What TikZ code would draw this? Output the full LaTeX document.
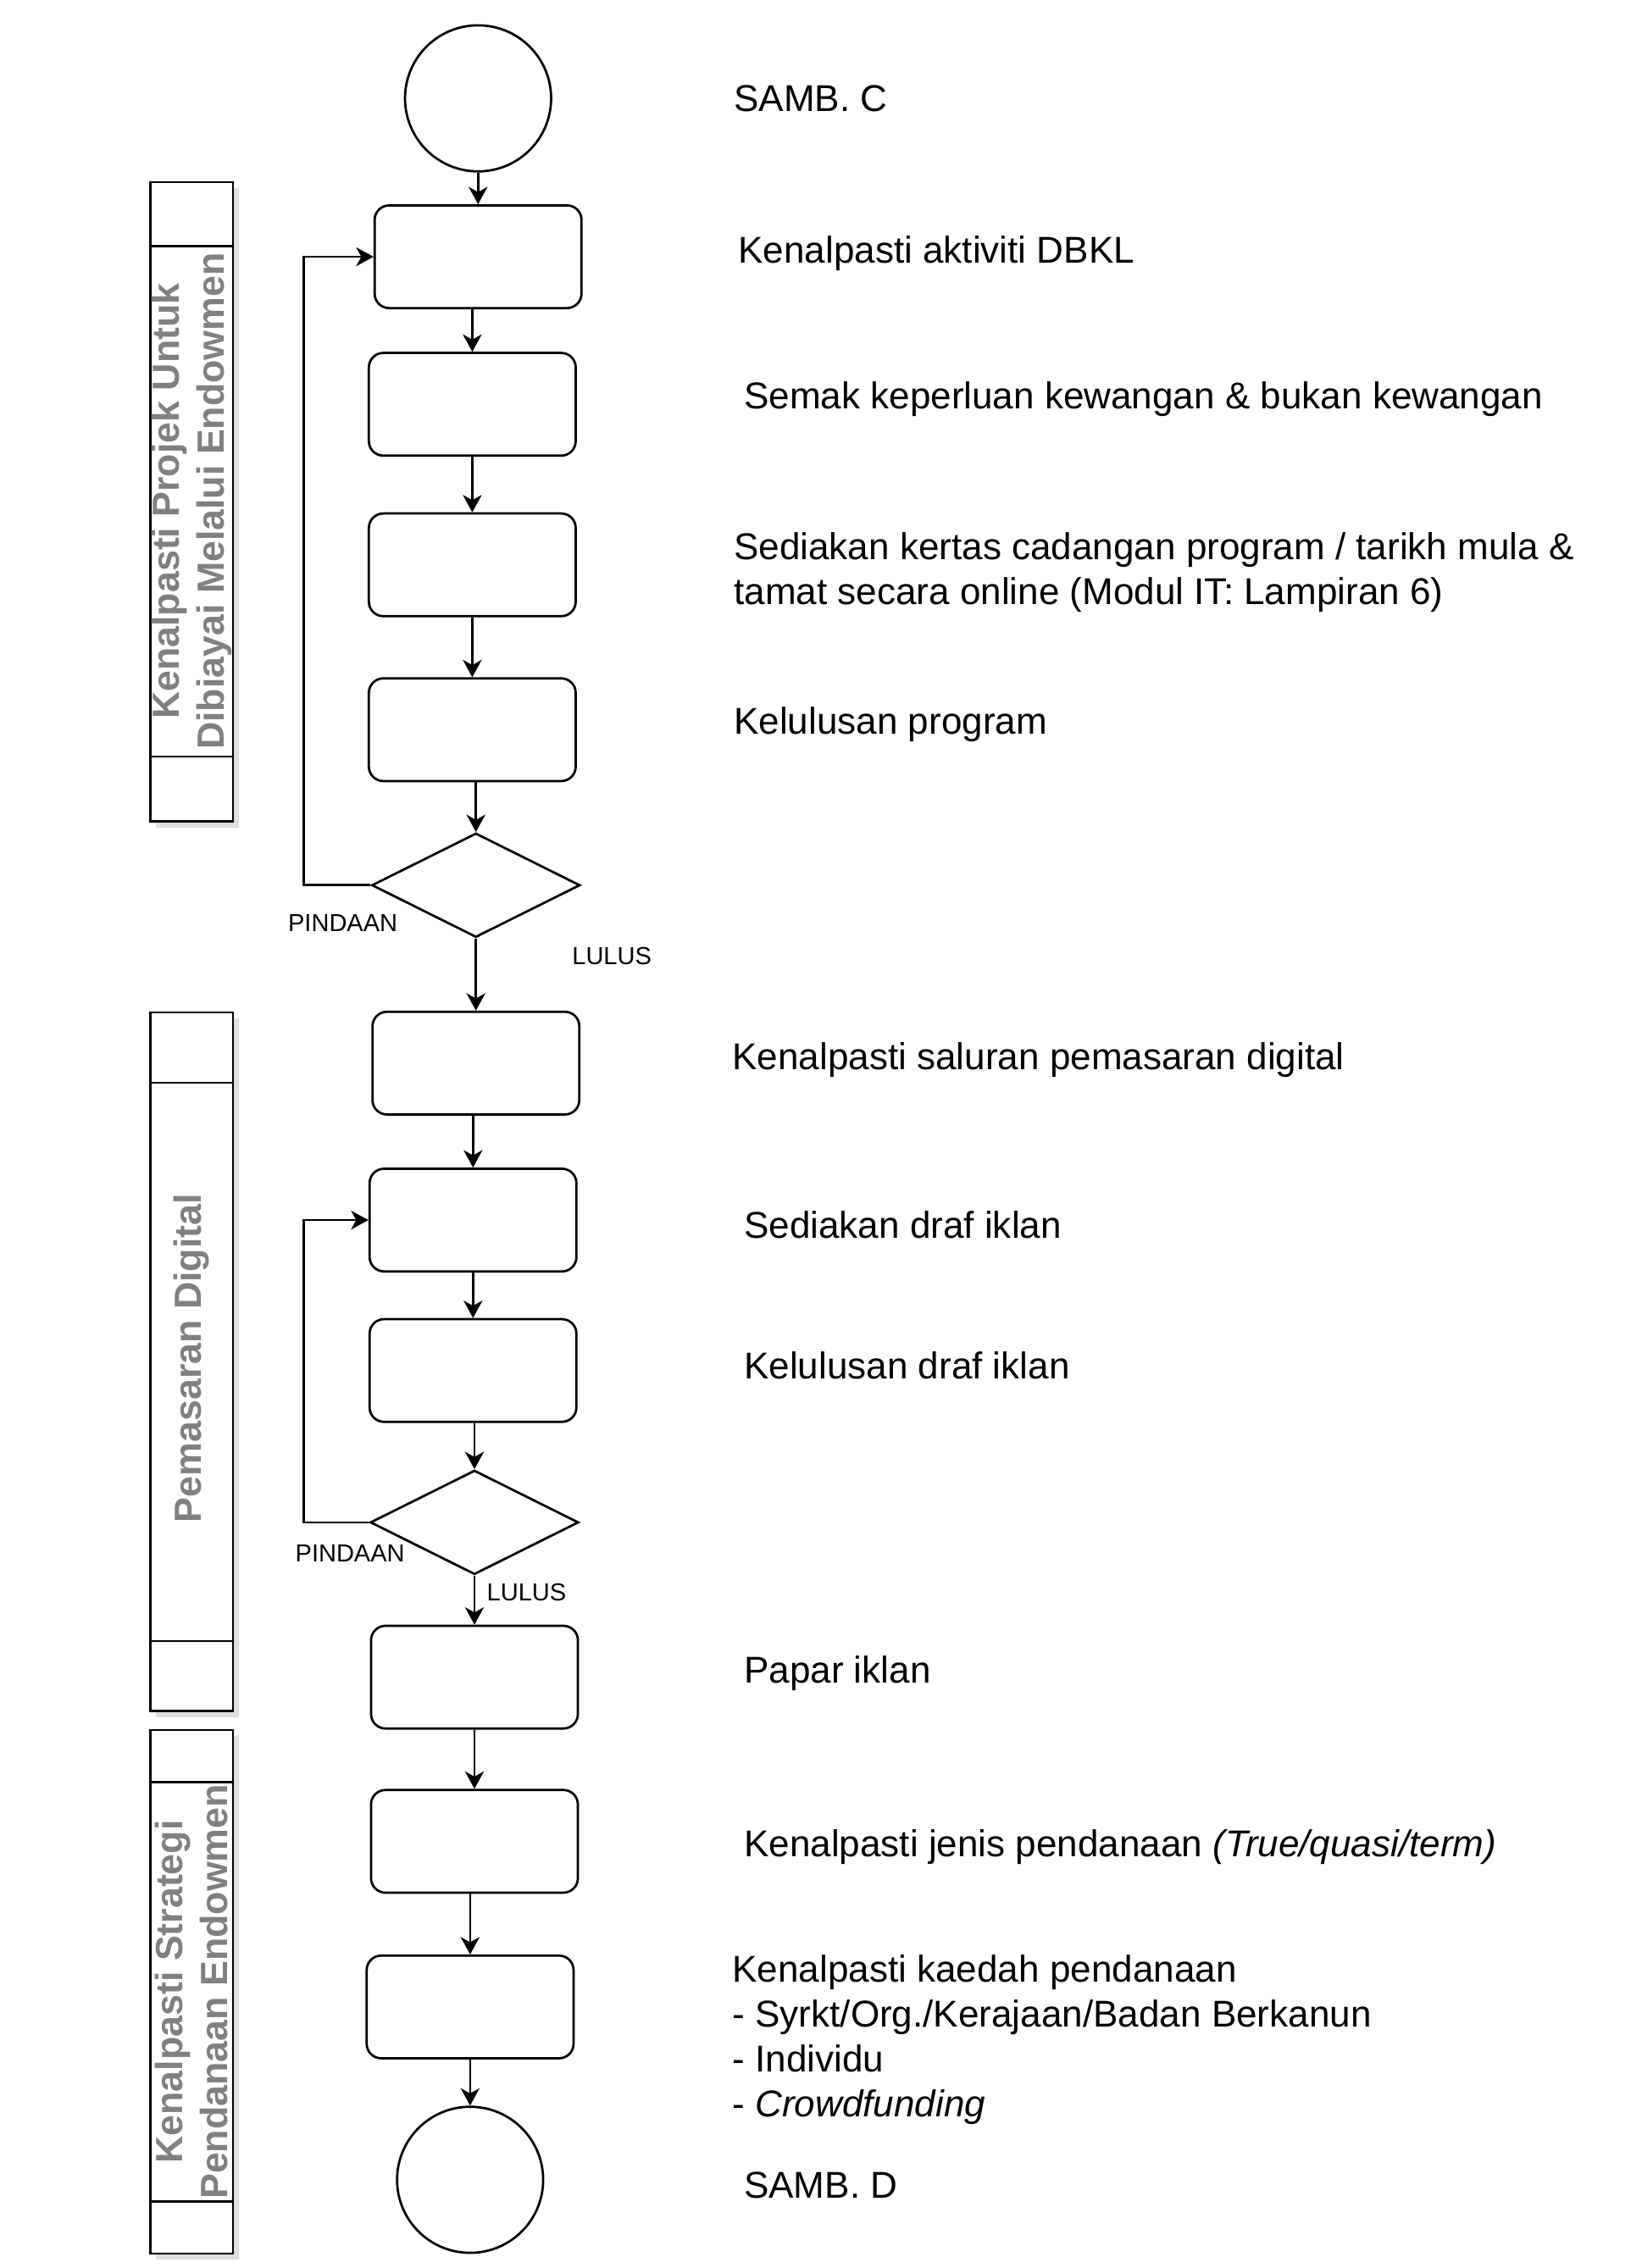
\documentclass[tikz,border=0pt]{standalone}
\usepackage{fontspec}
\setmainfont{Liberation Sans}
\usetikzlibrary{shapes.geometric,arrows.meta,shadows}
\begin{document}
\begin{tikzpicture}[x=0.5pt,y=-0.5pt,
  procbox/.style={draw, line width=0.8pt, rounded corners=5pt, minimum width=71.5pt, minimum height=35.5pt, inner sep=0pt},
  decbox/.style={draw, line width=0.8pt, diamond, aspect=2, minimum width=72pt, minimum height=36pt, inner sep=0pt},
  termbox/.style={draw, line width=0.8pt, circle, minimum size=50.5pt, inner sep=0pt},
  arr/.style={line width=0.8pt, -{Stealth[length=6pt,width=6.5pt,inset=1.8pt]}},
  desc/.style={anchor=west, inner sep=0pt, yshift=-1pt, align=left, font=\fontsize{12.9}{15.5}\selectfont},
  lbl/.style={inner sep=0pt, font=\fontsize{8.5}{10}\selectfont},
  lane/.style={draw, line width=0.8pt, fill=white, minimum width=28.5pt, inner sep=0pt,
    drop shadow={shadow xshift=2pt, shadow yshift=-2pt, opacity=0.25, fill=gray}},
  lanetext/.style={rotate=90, align=center, text=gray, inner sep=0pt, font=\bfseries\fontsize{13.1}{15.5}\selectfont}
]
\useasboundingbox (0,0) rectangle (1135,1568);

% lanes
\node[lane, minimum height=221pt] (L1) at (132.5,347) {};
\draw[line width=0.8pt] (104,170) -- (161,170) (104,523) -- (161,523);
\node[lanetext] (T1) at (132.5,346.5) {Kenalpasti Projek Untuk\\Dibiayai Melalui Endowmen};

\node[lane, minimum height=241.5pt] (L2) at (132.5,941.5) {};
\draw[line width=0.8pt] (104,748.5) -- (161,748.5) (104,1134.5) -- (161,1134.5);
\node[lanetext] (T2) at (132.5,939) {Pemasaran Digital};

\node[lane, minimum height=181pt] (L3) at (132.5,1377) {};
\draw[line width=0.8pt] (104,1232) -- (161,1232) (104,1522) -- (161,1522);
\node[lanetext] (T3) at (132.5,1377) {Kenalpasti Strategi\\Pendanaan Endowmen};

% flow nodes
\node[termbox] (c1) at (330.5,68) {};
\node[procbox] (b1) at (330.5,177.5) {};
\node[procbox] (b2) at (326.5,279.5) {};
\node[procbox] (b3) at (326.5,390.5) {};
\node[procbox] (b4) at (326.5,504.5) {};
\node[decbox] (d1) at (329,612) {};
\node[procbox] (b5) at (329,735) {};
\node[procbox] (b6) at (327,843.5) {};
\node[procbox] (b7) at (327,947.5) {};
\node[decbox] (d2) at (328,1052.5) {};
\node[procbox] (b8) at (328,1159.5) {};
\node[procbox] (b9) at (328,1273) {};
\node[procbox] (b10) at (325,1387.5) {};
\node[termbox] (c2) at (325,1507) {};

% connectors
\draw[arr] (c1.south) -- (b1.north);
\draw[arr] (b1.south -| b2.north) -- (b2.north);
\draw[arr] (b2.south) -- (b3.north);
\draw[arr] (b3.south) -- (b4.north);
\draw[arr] (b4.south -| d1.north) -- (d1.north);
\draw[arr] (d1.south) -- (b5.north);
\draw[arr] (b5.south -| b6.north) -- (b6.north);
\draw[arr] (b6.south) -- (b7.north);
\draw[arr] (b7.south -| d2.north) -- (d2.north);
\draw[arr] (d2.south) -- (b8.north);
\draw[arr] (b8.south) -- (b9.north);
\draw[arr] (b9.south -| b10.north) -- (b10.north);
\draw[arr] (b10.south -| c2.north) -- (c2.north);

\coordinate (k1) at (210,612);
\draw[arr] (d1.west) -- (k1) |- (b1.west);
\coordinate (k2) at (210,1052.5);
\draw[arr] (d2.west) -- (k2) |- (b6.west);

\node[lbl] (p1) at (237,638) {PINDAAN};
\node[lbl] (l1) at (423,661) {LULUS};
\node[lbl] (p2) at (242,1074) {PINDAAN};
\node[lbl] (l2) at (364,1101) {LULUS};

% descriptions
\node[desc] (t0) at (507,66) {SAMB. C};
\node[desc] (t1) at (510,173) {Kenalpasti aktiviti DBKL};
\node[desc] (t2) at (514,274) {Semak keperluan kewangan \& bukan kewangan};
\node[desc] (t3) at (507,393.5) {Sediakan kertas cadangan program / tarikh mula \&\\tamat secara online (Modul IT: Lampiran 6)};
\node[desc] (t4) at (507,499) {Kelulusan program};
\node[desc] (t5) at (506,731) {Kenalpasti saluran pemasaran digital};
\node[desc] (t6) at (514,845) {Sediakan draf iklan};
\node[desc] (t7) at (514,942) {Kelulusan draf iklan};
\node[desc] (t8) at (514,1155) {Papar iklan};
\node[desc] (t9) at (514,1275) {Kenalpasti jenis pendanaan \textit{(True/quasi/term)}};
\node[desc] (t10) at (506,1408) {Kenalpasti kaedah pendanaan\\- Syrkt/Org./Kerajaan/Badan Berkanun\\- Individu\\- \textit{Crowdfunding}};
\node[desc] (t11) at (514,1509) {SAMB. D};
\end{tikzpicture}
\end{document}
